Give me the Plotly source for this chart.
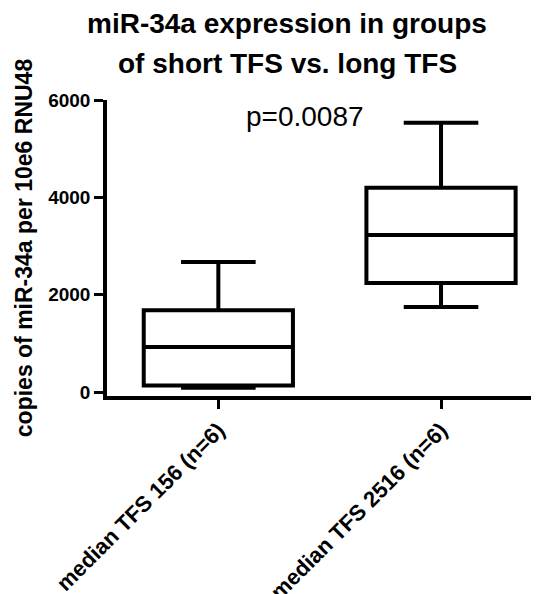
import plotly.graph_objects as go

# GraphPad-style box plot: miR-34a copies, short vs long TFS groups
groups = ["median TFS 156 (n=6)", "median TFS 2516 (n=6)"]
positions = [0, 1]
lower_whisker = [90, 1750]
q1 = [135, 2240]
median = [925, 3225]
q3 = [1680, 4200]
upper_whisker = [2675, 5535]

y_ticks = [0, 2000, 4000, 6000]
p_label = "p=0.0087"
title_lines = ["miR-34a expression in groups", "of short TFS vs. long TFS"]

FONT = "Liberation Sans, Arial, sans-serif"
INK = "#000000"

fig = go.Figure()
for i, name in enumerate(groups):
    fig.add_trace(go.Box(
        x=[positions[i]],
        q1=[q1[i]], median=[median[i]], q3=[q3[i]],
        lowerfence=[lower_whisker[i]], upperfence=[upper_whisker[i]],
        name=name, width=0.67, whiskerwidth=0.5,
        line=dict(color=INK, width=4),
        fillcolor="rgba(0,0,0,0)",
        boxpoints=False, showlegend=False,
    ))

fig.add_annotation(
    x=0.39, y=5660, xref="x", yref="y", text=p_label, showarrow=False,
    font=dict(family=FONT, size=28, color=INK),
)
# two-line title as annotations so the line spacing matches
for line, ypos in zip(title_lines, [1.257, 1.122]):
    fig.add_annotation(
        x=0.417, y=ypos, xref="paper", yref="paper", text=line,
        showarrow=False, xanchor="center", yanchor="middle",
        font=dict(family=FONT, size=28, color=INK, weight="bold"),
    )

# page body has an 8px default margin, so the figure is trimmed by that much
fig.update_layout(
    width=531, height=586,
    margin=dict(l=99, r=0, t=92, b=198),
    paper_bgcolor="white", plot_bgcolor="white",
    font=dict(family=FONT, color=INK),
)
fig.update_xaxes(
    range=[-0.5, 1.44], tickvals=positions, ticktext=groups, tickangle=-45,
    automargin=False,
    showgrid=False, zeroline=False, showline=True, linecolor=INK, linewidth=3.5,
    ticks="outside", ticklen=9, tickwidth=3, tickcolor=INK,
    tickfont=dict(family=FONT, size=22, color=INK, weight="bold"),
)
fig.update_yaxes(
    range=[-80, 6000], tickvals=y_ticks, automargin=False,
    showgrid=False, zeroline=False, showline=True, linecolor=INK, linewidth=3.5,
    ticks="outside", ticklen=9, tickwidth=3, tickcolor=INK,
    tickfont=dict(family=FONT, size=19, color=INK, weight="bold"),
    title=dict(text="copies of miR-34a per 10e6 RNU48", standoff=10,
               font=dict(family=FONT, size=23, color=INK, weight="bold")),
)

fig.write_html("out.html")
